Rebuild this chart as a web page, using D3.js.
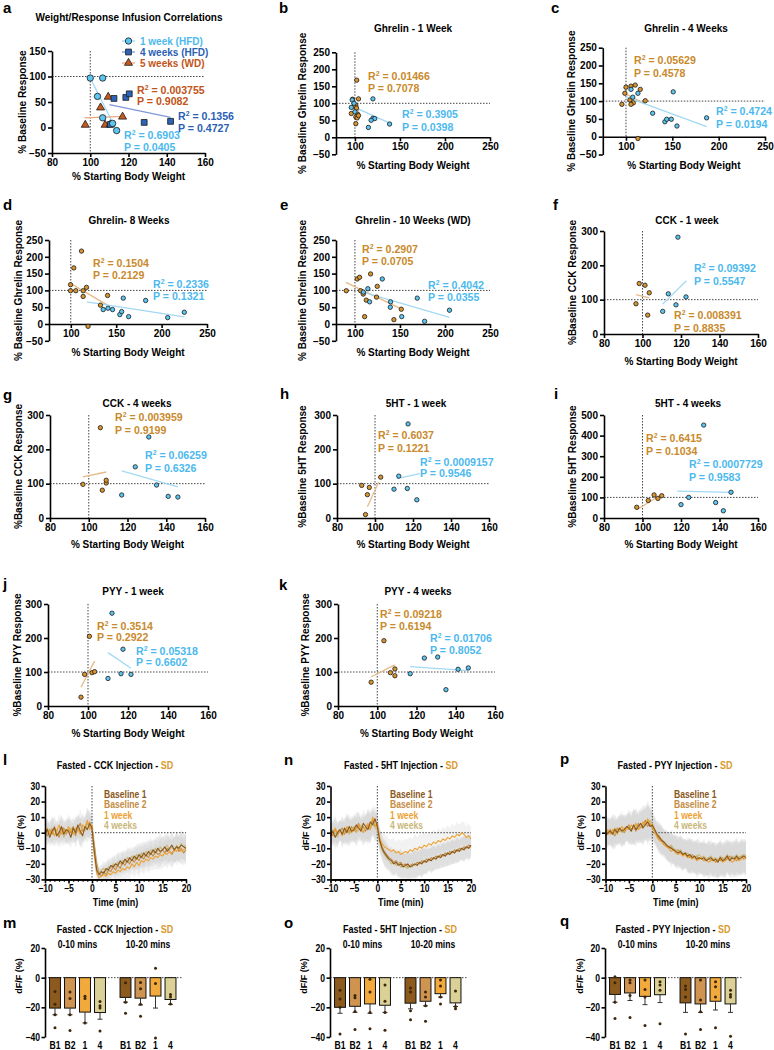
<!DOCTYPE html>
<html><head><meta charset="utf-8">
<script src="https://cdn.jsdelivr.net/npm/d3@7"></script>
<style>body{margin:0;background:#fff}</style>
</head><body>
<script>
// ================= DATA =================
// Panel a
const aWeek1 = [[100,97],[106.5,97],[103.8,61],[106.5,19],[111.7,8],[113.8,-6]];
const aWeek4 = [[110.5,6],[112.4,57],[118.6,59],[120.4,66],[128.2,10],[142,12]];
const aWeek5 = [[97.4,5],[105.4,39],[107.8,5],[109.4,60],[116.9,21],[110.5,6]];
const aFitWeek1 = [100,97,113,0];
const aFitWeek4 = [110,45,142,20];
const aFitWeek5 = [97,19,117,22];
const aStats = [["0.003755","0.9082"],["0.1356","0.4727"],["0.6903","0.0405"]];
const aLegend = ["1 week (HFD)","4 weeks (HFD)","5 weeks (WD)"];
// Panel b
const bOrange = [[102,168],[104,113],[97.4,112],[101,95],[99,92],[101.8,86],[96,70],[103,68],[101,60],[102.5,57],[104,64],[101,40]];
const bBlue = [[97,110],[99,100],[96,88],[100,75],[120,113],[120,56],[122,55],[115,29],[138.5,39],[118,50]];
const bFitOrange = [96,85,105,78], bFitBlue = [98,90,140,40];
const bStats = [["0.01466","0.7078"],["0.3905","0.0398"]];
// Panel c
const cOrange = [[100,139],[98.8,122],[105.4,142],[110,145],[115.4,133],[104.3,103],[107.9,95],[105.4,91],[95.6,91],[120.8,101],[112.9,-5]];
const cBlue = [[105.4,133],[112.9,122],[107.3,111],[151,126],[128.8,66],[142,42],[143.9,49],[148.9,49],[155,30],[187,53]];
const cFitOrange = [97,124,120,92], cFitBlue = [100,112,187,28];
const cStats = [["0.05629","0.4578"],["0.4724","0.0194"]];
// Panel d
const dOrange = [[99.7,99],[99.7,117],[103.3,167],[105.5,99],[111.8,217],[113.6,99],[117.3,109],[113.6,82],[140.5,85],[132.7,56],[119,-7]];
const dBlue = [[135.7,43],[141,47],[146,43],[154,28],[156,37],[157.8,77],[163.7,22],[182.4,70],[206.7,19],[225,35]];
const dFitOrange = [100,120,140,57], dFitBlue = [117.6,66,225,21];
const dStats = [["0.1504","0.2129"],["0.2336","0.1321"]];
// Panel e
const eOrange = [[90.4,99],[102.6,134],[105.2,139],[106.3,99],[109.3,89],[112.6,71],[117.4,149],[124.8,112],[124,80],[143.3,13],[151.5,44],[110.8,22]];
const eBlue = [[109.3,95],[114.4,105],[116.3,66],[130.4,134],[139.6,66],[139.3,50],[152,22],[169.2,77],[177.4,8],[205,41]];
const eFitOrange = [90,124,151.5,45], eFitBlue = [109,95,205,20];
const eStats = [["0.2907","0.0705"],["0.4042","0.0355"]];
// Panel f
const fOrange = [[98.3,147],[101.3,142],[103.5,120],[96.6,88],[102.7,55]];
const fBlue = [[118.4,282],[113.4,117],[122.6,108],[117.4,85],[110.5,66]];
const fFitOrange = [96.6,115,103.5,105], fFitBlue = [110.5,87,122.8,155];
const fStats = [["0.008391","0.8835"],["0.09392","0.5547"]];
// Panel g
const gOrange = [[97,98],[107,81],[109,102],[109,110],[106,263]];
const gBlue = [[117,67],[124,149],[131,236],[135,96],[141,63],[146,61]];
const gFitOrange = [97,120,109,134], gFitBlue = [117,137,146,91];
const gStats = [["0.003959","0.9199"],["0.06259","0.6326"]];
// Panel h
const hOrange = [[93,95],[97,89],[96,68],[95,10],[103,119]];
const hBlue = [[110,84],[117,86],[122,53],[112.5,122],[117.4,274]];
const hFitOrange = [96,33,102,105], hFitBlue = [111.5,115,123.6,129];
const hStats = [["0.6037","0.1221"],["0.0009157","0.9546"]];
// Panel i
const iOrange = [[97,52],[103,85],[106,112],[108,95],[110,108]];
const iBlue = [[131.8,451],[120,65],[124,100],[138,75],[142,35],[146,125]];
const iFitOrange = [97,40,110,115], iFitBlue = [118,130,146,124];
const iStats = [["0.6415","0.1034"],["0.0007729","0.9583"]];
// Panel j
const jOrange = [[98.3,93],[102,98],[103.3,101],[96.5,26],[100.7,205]];
const jBlue = [[112,273],[117.5,167],[110,81],[116.5,95],[121.5,93]];
const jFitOrange = [96.5,55,103.3,132], jFitBlue = [110,157,121.5,111];
const jStats = [["0.3514","0.2922"],["0.05318","0.6602"]];
// Panel k
const kOrange = [[96.9,70],[106.7,98],[109,109],[109,89],[103.4,192]];
const kBlue = [[116.8,95],[124,141],[130.8,144],[135,48],[141.2,108],[146.4,112]];
const kFitOrange = [97,86,109,121], kFitBlue = [116.8,116,146.4,104];
const kStats = [["0.09218","0.6194"],["0.01706","0.8052"]];

// Traces (time in min)
const timeMin = [-10,-9.5,-9,-8.5,-8,-7.5,-7,-6.5,-6,-5.5,-5,-4.5,-4,-3.5,-3,-2.5,-2,-1.5,-1,-0.5,0,0.5,1,1.5,2,2.5,3,3.5,4,4.5,5,5.5,6,6.5,7,7.5,8,8.5,9,9.5,10,10.5,11,11.5,12,12.5,13,13.5,14,14.5,15,15.5,16,16.5,17,17.5,18,18.5,19,19.5,20];
const traceNames = ["Baseline 1","Baseline 2","1 week","4 weeks"];
const lB1 = [-1,2,-3,1,3,-2,0,4,-1,2,1,-3,3,0,5,1,-2,4,2,6, 3, -12,-24,-27,-25,-26,-23,-24,-21,-22,-20,-21,-18,-20,-17,-19,-16,-18,-15,-17,-14,-16,-13,-15,-12,-14,-11,-13,-10,-12,-11,-9,-12,-10,-8,-11,-9,-10,-8,-9,-10];
const lB2 = [1,-2,2,-1,4,0,-3,2,3,-1,2,0,4,-2,3,6,1,3,7,4, 2, -8,-20,-26,-28,-25,-27,-24,-25,-22,-24,-21,-23,-19,-21,-18,-20,-17,-19,-16,-18,-15,-17,-14,-16,-13,-15,-12,-14,-13,-11,-13,-10,-12,-14,-11,-9,-12,-10,-13,-11];
const lW1 = [0,3,-1,2,-2,1,5,-1,2,0,4,1,-1,3,2,-1,5,3,8,2, 5, -15,-26,-29,-28,-27,-28,-26,-27,-25,-26,-24,-25,-23,-24,-22,-23,-20,-22,-19,-21,-18,-19,-17,-18,-16,-17,-15,-16,-14,-15,-13,-14,-12,-13,-11,-12,-10,-12,-11,-10];
const lW4 = [2,-1,1,3,-2,2,0,3,-3,1,0,3,-1,2,4,0,3,1,5,7, 4, -10,-22,-26,-24,-23,-25,-22,-23,-20,-22,-19,-20,-18,-19,-16,-18,-15,-17,-14,-16,-13,-15,-12,-14,-11,-13,-10,-12,-9,-11,-10,-8,-11,-9,-12,-8,-10,-7,-9,-8];
const lSem = [6,7,6,8,7,6,7,8,6,7,8,7,6,8,7,9,8,7,9,8, 7, 6,5,4,4,5,5,6,5,6,6,7,6,7,6,7,7,6,7,7,8,7,8,7,8,8,7,8,8,9,8,8,9,8,9,8,9,8,9,8,9];
const nB1 = [-2,1,-3,0,2,-1,3,0,4,1,2,5,3,1,6,4,2,7,5,9, 4, -5,-10,-13,-15,-17,-18,-20,-19,-21,-20,-22,-21,-20,-22,-21,-20,-21,-19,-20,-18,-19,-17,-18,-16,-17,-15,-16,-14,-15,-13,-14,-12,-13,-11,-12,-10,-11,-9,-10,-8];
const nB2 = [0,-2,2,-1,1,3,-1,2,0,4,1,3,6,2,4,1,5,3,8,4, 6, -4,-9,-12,-14,-16,-17,-19,-18,-20,-19,-21,-20,-22,-21,-20,-21,-19,-20,-18,-19,-17,-18,-16,-17,-15,-16,-14,-15,-13,-14,-12,-13,-11,-12,-10,-11,-9,-10,-8,-9];
const nW1 = [1,-1,3,0,2,-2,1,4,2,0,3,1,5,2,0,4,6,2,10,5, 3, -3,-7,-9,-10,-11,-12,-11,-13,-12,-14,-13,-12,-13,-11,-12,-10,-11,-9,-10,-8,-9,-7,-8,-6,-7,-5,-6,-4,-5,-3,-4,-2,-3,-1,-2,0,-1,-3,-2,-4];
const nW4 = [-1,2,0,-3,1,2,0,3,-1,2,4,0,2,5,1,3,4,2,6,3, 2, -6,-11,-14,-16,-18,-20,-19,-21,-20,-22,-21,-22,-23,-21,-22,-20,-21,-19,-20,-18,-19,-17,-18,-16,-17,-15,-16,-14,-15,-13,-14,-12,-13,-11,-12,-10,-11,-9,-10,-9];
const nSem = [6,7,8,7,6,8,7,9,8,7,8,9,8,7,9,8,10,9,8,9, 8, 7,7,8,8,7,8,8,7,8,9,8,8,9,8,8,9,8,8,9,8,8,7,8,8,7,8,7,8,7,8,7,8,7,8,7,7,8,7,8,7];
const pB1 = [-2,0,1,-1,2,0,3,1,2,4,3,1,5,2,4,6,3,5,7,4, 5, 2,-1,-3,-5,-6,-8,-9,-10,-11,-12,-13,-12,-14,-13,-15,-14,-16,-15,-17,-16,-17,-16,-18,-17,-16,-18,-17,-19,-16,-18,-17,-15,-18,-16,-17,-15,-17,-16,-15,-16];
const pB2 = [1,-1,2,0,-2,3,1,2,0,3,5,2,4,1,6,3,5,8,4,6, 3, 1,-2,-4,-5,-7,-8,-10,-9,-11,-12,-11,-13,-14,-13,-15,-16,-14,-16,-15,-17,-16,-18,-17,-16,-18,-17,-19,-17,-18,-16,-18,-17,-15,-17,-16,-18,-16,-15,-17,-16];
const pW1 = [0,2,-1,1,3,-1,2,4,1,3,2,5,3,6,2,4,7,5,9,6, 4, 0,-3,-5,-6,-8,-9,-10,-12,-11,-13,-14,-13,-15,-14,-16,-15,-17,-16,-18,-17,-16,-18,-17,-19,-18,-17,-19,-18,-17,-19,-18,-16,-17,-19,-18,-16,-18,-17,-16,-17];
const pW4 = [-1,1,0,2,-1,1,2,0,3,2,4,1,3,5,2,4,3,6,5,8, 6, 2,-1,-2,-4,-6,-7,-9,-8,-10,-11,-12,-11,-13,-14,-13,-15,-14,-16,-15,-14,-16,-15,-17,-16,-15,-17,-16,-18,-15,-17,-16,-14,-17,-15,-16,-14,-16,-15,-14,-15];
const pSem = [8,9,8,10,9,8,9,10,9,8,10,9,11,10,9,10,11,10,12,10, 9, 8,8,9,9,8,9,9,10,9,10,9,10,10,9,10,11,10,10,11,10,10,11,10,11,10,11,10,11,11,10,11,10,11,10,11,11,10,11,10,11];

// Bars
const barGroups = ["0-10 mins","10-20 mins"];
const barCats = ["B1","B2","1","4"];
const mMeans = [[-20.5,-20.5,-23.2,-23.5],[-13.3,-13.8,-12.4,-14.7]];
const mSem = [[4.5,4.5,7.3,4.5],[3.2,4.6,8.1,3.3]];
const mDots = [[[-9.4,-18,-25,-33.8],[-9.7,-14,-25,-35.6],[-12.5,-14,-30.5],[-16,-19,-20.5,-36]],
               [[-3.4,-16.5,-24],[-3.2,-7.4,-18,-26],[6.4,-3.9,-40.7],[-11.3,-13,-17.7]]];
const oMeans = [[-20,-19.3,-17.7,-18.6],[-17.2,-15.9,-10.8,-17]];
const oSem = [[4,4.1,6.3,4.8],[3.8,3.1,2.3,2.5]];
const oDots = [[[-8.5,-14.3,-20,-38],[-12,-13.6,-22.8,-35],[-1.1,-9.7,-23.4,-34.5],[-5,-15.9,-23.4,-35.4]],
               [[-6.9,-9.7,-22.3,-28.3],[-9.7,-13,-18.9,-29.4],[-1.6,-5.7,-13,-17.7],[-9,-19.5,-21]]];
const qMeans = [[-11.3,-10.3,-12.6,-11.5],[-17,-17.7,-15.9,-17.7]];
const qSem = [[5.2,5.1,5.6,5.3],[6.4,5.7,5.9,5.7]];
const qDots = [[[0.7,-3.4,-16.5,-27.6],[-1.6,-3.4,-12,-26.9],[-1.6,-8,-13,-32.2],[-2.8,-5,-8.5,-31]],
               [[-5.7,-8,-13,-38],[-1.6,-15,-23,-35],[-2.8,-6.2,-13,-33.8],[-8.5,-11.3,-13,-39.5]]];

// ================= STYLE / HELPERS =================
const F = "'Liberation Sans', Arial, Helvetica, sans-serif";
const SQ = 0.82; // horizontal condensation for the bottom (l-q) panels
const COL = {lb:"#5cc6f2", lbLine:"#a2d9f3", lbTxt:"#4cb9ee", db:"#2c63b8", dbLine:"#7f98d6", dbTxt:"#2b5fb4",
  rust:"#c65a1e", rustLine:"#eba882", rustTxt:"#c25418", or:"#d8952f", orLine:"#e6ba88", orTxt:"#c98a2c"};
const traceCols = ["#8a581c","#c48c44","#eda234","#c9b77a"];
const barCols = ["#8c5a1c","#cf9550","#f2aa3c","#dbd096"];

const svg = d3.select("body").append("svg").attr("width",774).attr("height",1050).style("display","block");
svg.append("rect").attr("width",774).attr("height",1050).attr("fill","#fff");

function txt(g,x,y,s,o={}){
  const t=g.append("text").attr("font-family",F).attr("font-weight","bold")
    .attr("font-size",o.fs||10).attr("fill",o.fill||"#000").attr("text-anchor",o.anchor||"start").text(s);
  if(o.narrow||o.rot){
    t.attr("x",0).attr("y",0).attr("transform",`translate(${x},${y})${o.rot?" rotate(-90)":""}${o.narrow?` scale(${SQ},1)`:""}`);
  } else t.attr("x",x).attr("y",y);
  return t;
}
function styleAxis(g,fs,narrow){
  g.attr("font-family",null).attr("font-size",null);
  g.selectAll("path.domain").attr("stroke","#000").attr("stroke-width",1.6);
  g.selectAll(".tick line").attr("stroke","#000").attr("stroke-width",1.6);
  const t=g.selectAll(".tick text").attr("font-family",F).attr("font-weight","bold").attr("font-size",fs||10).attr("fill","#000");
  if(narrow) t.attr("transform",`scale(${SQ},1)`).attr("x",function(){return (+d3.select(this).attr("x")||0)/SQ;});
}
function dotted(sel){ sel.attr("stroke","#444").attr("stroke-width",1).attr("stroke-dasharray","1.5,1.5"); }
function annot(g,x0,yR,yP,color,r2,pv){
  const fs=10.6;
  const t=g.append("text").attr("x",x0).attr("y",yR+4).attr("font-family",F).attr("font-weight","bold").attr("font-size",fs).attr("fill",color);
  t.append("tspan").text("R");
  t.append("tspan").attr("dy",-4.5).attr("font-size",fs*0.65).text("2");
  t.append("tspan").attr("dy",4.5).text(" = "+r2);
  txt(g,x0,yP+4,"P = "+pv,{fs:fs,fill:color});
}

// ================= SCATTER PANELS =================
function scatterPanel(L,D){
  const g=svg.append("g");
  const x=d3.scaleLinear().domain(L.xd).range(L.xr);
  const y=d3.scaleLinear().domain(L.yd).range(L.yr);
  g.append("line").attr("x1",x(100)).attr("x2",x(100)).attr("y1",y(L.yd[1])).attr("y2",y(L.base)).call(dotted);
  g.append("line").attr("x1",L.xr[0]).attr("x2",L.xr[1]).attr("y1",y(100)).attr("y2",y(100)).call(dotted);
  const ay=g.append("g").attr("transform",`translate(${L.xr[0]},0)`)
    .call(d3.axisLeft(y).tickValues(L.yt).tickSize(4).tickPadding(2).tickSizeOuter(0));
  styleAxis(ay);
  const ax=g.append("g").attr("transform",`translate(0,${y(L.base)})`)
    .call(d3.axisBottom(x).tickValues(L.xt).tickSize(4).tickPadding(2).tickSizeOuter(0));
  styleAxis(ax);
  D.fits.forEach(f=>g.append("line").attr("x1",x(f.v[0])).attr("y1",y(f.v[1])).attr("x2",x(f.v[2])).attr("y2",y(f.v[3]))
    .attr("stroke",f.c).attr("stroke-width",1.3));
  D.pts.forEach(s=>{
    g.selectAll(null).data(s.v).join("path")
      .attr("transform",d=>`translate(${x(d[0])},${y(d[1])})`)
      .attr("d",d3.symbol().type(s.sym||d3.symbolCircle).size(s.size||15))
      .attr("fill",s.c).attr("stroke","#1a1a1a").attr("stroke-width",0.8);
  });
  D.stats.forEach((s,i)=>{ const p=L.ann[i]; annot(g,p[0],p[1],p[2],D.statCols[i],s[0],s[1]); });
  txt(g,L.letter[0],L.letter[1],L.id,{fs:15});
  txt(g,L.tx,L.ty,L.title,{anchor:"middle",fs:10});
  const ymid=(L.yr[0]+L.yr[1])/2;
  txt(g,L.ylx,ymid,L.ylab,{anchor:"middle",rot:true,fs:10});
  txt(g,(L.xr[0]+L.xr[1])/2,L.xly,"% Starting Body Weight",{anchor:"middle",fs:10});
  return {g,x,y};
}

const ghX = [100,150,200,250], ghY=[-50,0,50,100,150,200,250];
const wX = [80,100,120,140,160], y300=[0,100,200,300];
const layouts = {
 a:{id:"a",xd:[80,160],xr:[52,205],yd:[-50,150],yr:[153,51],base:-50,xt:wX,yt:[-50,0,50,100,150],letter:[3,13],
    title:"Weight/Response Infusion Correlations",tx:129,ty:21,ylab:"% Baseline Response",ylx:26,xly:180,
    ann:[[137,90,101],[178,116,128],[124,135,147]]},
 b:{id:"b",xd:[79,250],xr:[336,490],yd:[-50,250],yr:[154.3,52.3],base:0,xt:ghX,yt:ghY,letter:[279,13],
    title:"Ghrelin - 1 Week",tx:413,ty:32,ylab:"% Baseline Ghrelin Response",ylx:306,xly:169,
    ann:[[368,76,88],[402,114,127]]},
 c:{id:"c",xd:[75,250],xr:[602.8,765],yd:[-50,250],yr:[154.5,47.7],base:0,xt:ghX,yt:ghY,letter:[551,13],
    title:"Ghrelin - 4  Weeks",tx:686,ty:32,ylab:"% Baseline Ghrelin Response",ylx:575,xly:169,
    ann:[[634,60,73],[716,111,124]]},
 d:{id:"d",xd:[76,250],xr:[49,207],yd:[-50,250],yr:[340.8,240],base:0,xt:ghX,yt:ghY,letter:[3,210],
    title:"Ghrelin- 8 Weeks",tx:129,ty:224,ylab:"% Baseline Ghrelin Response",ylx:22,xly:356,
    ann:[[93,263,275],[153,284,296]]},
 e:{id:"e",xd:[79,250],xr:[336,490],yd:[-50,250],yr:[340.8,240],base:0,xt:ghX,yt:ghY,letter:[280,210],
    title:"Ghrelin - 10 Weeks (WD)",tx:413,ty:224,ylab:"% Baseline Ghrelin Response",ylx:306,xly:356,
    ann:[[362,249,261],[428,285,297]]},
 f:{id:"f",xd:[80,160],xr:[604,758],yd:[0,300],yr:[334,231],base:0,xt:wX,yt:y300,letter:[553,210],
    title:"CCK - 1 week",tx:687,ty:224,ylab:"%Baseline CCK Response",ylx:576,xly:365,
    ann:[[674,315,328],[694,268,281]]},
 g:{id:"g",xd:[80,160],xr:[50,205],yd:[0,300],yr:[518,415],base:0,xt:wX,yt:y300,letter:[3,400],
    title:"CCK - 4 weeks",tx:137,ty:407,ylab:"%Baseline CCK Response",ylx:22,xly:548,
    ann:[[115,417,430],[145,455,468]]},
 h:{id:"h",xd:[80,160],xr:[337,489],yd:[0,300],yr:[518,415],base:0,xt:wX,yt:y300,letter:[280,399],
    title:"5HT - 1 week",tx:416,ty:407,ylab:"%Baseline 5HT Response",ylx:306,xly:548,
    ann:[[378,435,448],[420,462,473]]},
 i:{id:"i",xd:[80,160],xr:[604,758],yd:[0,500],yr:[518,415],base:0,xt:wX,yt:[0,100,200,300,400,500],letter:[554,399],
    title:"5HT - 4 weeks",tx:688,ty:407,ylab:"%Baseline 5HT Response",ylx:576,xly:548,
    ann:[[646,438,451],[689,464,477]]},
 j:{id:"j",xd:[80,160],xr:[48,208],yd:[0,300],yr:[706,604],base:0,xt:wX,yt:y300,letter:[3,589],
    title:"PYY - 1 week",tx:133,ty:595,ylab:"%Baseline PYY Response",ylx:21,xly:737,
    ann:[[97,626,637],[136,651,662]]},
 k:{id:"k",xd:[80,160],xr:[338,495],yd:[0,300],yr:[706,604],base:0,xt:wX,yt:y300,letter:[279,590],
    title:"PYY - 4 weeks",tx:418,ty:595,ylab:"%Baseline PYY Response",ylx:309,xly:737,
    ann:[[380,614,626],[430,638,650]]}
};

// panel a
scatterPanel(layouts.a,{
  fits:[{v:aFitWeek1,c:COL.lbLine},{v:aFitWeek4,c:COL.dbLine},{v:aFitWeek5,c:COL.rustLine}],
  pts:[{v:aWeek5,c:COL.rust,sym:d3.symbolTriangle,size:28},{v:aWeek4,c:COL.db,sym:d3.symbolSquare,size:34},{v:aWeek1,c:COL.lb,size:32}],
  stats:aStats, statCols:[COL.rustTxt,COL.dbTxt,COL.lbTxt]
});
{ // legend a
  const g=svg.append("g");
  const syms=[[d3.symbolCircle,COL.lb,COL.lbLine,32],[d3.symbolSquare,COL.db,COL.dbLine,34],[d3.symbolTriangle,COL.rust,COL.rustLine,28]];
  const ly=d3.scalePoint().domain(aLegend).range([41,63]);
  aLegend.forEach((name,i)=>{
    const yy=ly(name);
    g.append("line").attr("x1",122).attr("x2",135).attr("y1",yy).attr("y2",yy).attr("stroke",syms[i][2]).attr("stroke-width",1.3);
    g.append("path").attr("transform",`translate(128.5,${yy})`).attr("d",d3.symbol().type(syms[i][0]).size(syms[i][3]))
      .attr("fill",syms[i][1]).attr("stroke","#1a1a1a").attr("stroke-width",0.8);
    txt(g,140,yy+3.5,name,{fs:10,fill:[COL.lbTxt,COL.dbTxt,COL.rustTxt][i]});
  });
}
const pairPanels = [
  ["b",bOrange,bBlue,bFitOrange,bFitBlue,bStats],
  ["c",cOrange,cBlue,cFitOrange,cFitBlue,cStats],
  ["d",dOrange,dBlue,dFitOrange,dFitBlue,dStats],
  ["e",eOrange,eBlue,eFitOrange,eFitBlue,eStats],
  ["f",fOrange,fBlue,fFitOrange,fFitBlue,fStats],
  ["g",gOrange,gBlue,gFitOrange,gFitBlue,gStats],
  ["h",hOrange,hBlue,hFitOrange,hFitBlue,hStats],
  ["i",iOrange,iBlue,iFitOrange,iFitBlue,iStats],
  ["j",jOrange,jBlue,jFitOrange,jFitBlue,jStats],
  ["k",kOrange,kBlue,kFitOrange,kFitBlue,kStats]
];
pairPanels.forEach(([id,po,pb,fo,fb,st])=>{
  scatterPanel(layouts[id],{
    fits:[{v:fo,c:COL.orLine},{v:fb,c:COL.lbLine}],
    pts:[{v:po,c:COL.or},{v:pb,c:COL.lb}],
    stats:st, statCols:[COL.orTxt,COL.lbTxt]
  });
});

// ================= TRACE PANELS =================
function titleSD(g,cx,y,main){
  const t=g.append("text").attr("x",0).attr("y",0).attr("transform",`translate(${cx},${y}) scale(${SQ},1)`)
    .attr("text-anchor","middle").attr("font-family",F).attr("font-weight","bold").attr("font-size",11).attr("fill","#000");
  t.append("tspan").text(main);
  t.append("tspan").attr("fill","#d99a30").text("SD");
}
function tracePanel(L,series,sem){
  const g=svg.append("g");
  const x=d3.scaleLinear().domain([-10,20]).range(L.xr);
  const y=d3.scaleLinear().domain([-30,30]).range([879.4,786]).clamp(true);
  series.forEach(s=>{
    g.append("path").datum(timeMin)
      .attr("d",d3.area().x(t=>x(t)).y0((t,i)=>y(s.v[i]-sem[i])).y1((t,i)=>y(s.v[i]+sem[i])))
      .attr("fill","#c6c6c6").attr("opacity",0.22);
  });
  g.append("line").attr("x1",x(0)).attr("x2",x(0)).attr("y1",y(30)).attr("y2",y(-30)).call(dotted);
  g.append("line").attr("x1",x(0)).attr("x2",x(20)).attr("y1",y(0)).attr("y2",y(0)).call(dotted);
  [1,3,2,0].forEach(k=>{
    const s=series[k];
    g.append("path").datum(timeMin)
      .attr("d",d3.line().x(t=>x(t)).y((t,i)=>y(s.v[i])))
      .attr("fill","none").attr("stroke",s.c).attr("stroke-width",1.1).attr("stroke-linejoin","round");
  });
  const ay=g.append("g").attr("transform",`translate(${L.xr[0]},0)`)
    .call(d3.axisLeft(y).tickValues([-30,-20,-10,0,10,20,30]).tickSize(3.5).tickPadding(1.5).tickSizeOuter(0));
  styleAxis(ay,10.5,true);
  const axm=g.append("g").attr("transform",`translate(0,879.4)`)
    .call(d3.axisBottom(x).tickValues(d3.range(-10,21,1)).tickSize(2.5).tickFormat("").tickSizeOuter(0));
  styleAxis(axm);
  axm.selectAll(".tick line").attr("stroke-width",1);
  const ax=g.append("g").attr("transform",`translate(0,879.4)`)
    .call(d3.axisBottom(x).tickValues([-10,-5,0,5,10,15,20]).tickSize(4).tickPadding(1.5).tickSizeOuter(0));
  styleAxis(ax,10.5,true);
  txt(g,L.letter[0],L.letter[1],L.id,{fs:15});
  titleSD(g,L.tx,769,L.title);
  txt(g,L.ylx,832.7,"dF/F (%)",{anchor:"middle",rot:true,fs:9});
  txt(g,(L.xr[0]+L.xr[1])/2,906,"Time (min)",{anchor:"middle",fs:11,narrow:true});
  const ly=d3.scalePoint().domain(traceNames).range([794,825.3]);
  traceNames.forEach((n,i)=>txt(g,L.legX,ly(n)+4,n,{fs:10.5,narrow:true,fill:traceCols[i]}));
}
tracePanel({id:"l",xr:[45,186],tx:115,title:"Fasted - CCK Injection - ",letter:[3,765],ylx:24,legX:104},
  [{v:lB1,c:traceCols[0]},{v:lB2,c:traceCols[1]},{v:lW1,c:traceCols[2]},{v:lW4,c:traceCols[3]}],lSem);
tracePanel({id:"n",xr:[330.5,471],tx:401,title:"Fasted - 5HT Injection - ",letter:[284,765],ylx:309,legX:390},
  [{v:nB1,c:traceCols[0]},{v:nB2,c:traceCols[1]},{v:nW1,c:traceCols[2]},{v:nW4,c:traceCols[3]}],nSem);
tracePanel({id:"p",xr:[605.5,746],tx:675,title:"Fasted - PYY Injection - ",letter:[560,764],ylx:584,legX:674},
  [{v:pB1,c:traceCols[0]},{v:pB2,c:traceCols[1]},{v:pW1,c:traceCols[2]},{v:pW4,c:traceCols[3]}],pSem);

// ================= BAR PANELS =================
function barPanel(L,means,sems,dots){
  const g=svg.append("g");
  const y=d3.scaleLinear().domain([-40,20]).range([1037,948]);
  const gx=d3.scaleBand().domain(barGroups).range([L.ax+2.5,L.ax+133]).paddingInner(0.149);
  const bx=d3.scaleBand().domain(barCats).range([0,gx.bandwidth()]).paddingInner(0.27).paddingOuter(0.135);
  g.append("line").attr("x1",L.ax).attr("x2",L.ax+137).attr("y1",y(0)).attr("y2",y(0)).call(dotted);
  barGroups.forEach((grp,gi)=>{
    const gg=g.append("g").attr("transform",`translate(${gx(grp)},0)`);
    gg.selectAll("rect").data(means[gi]).join("rect")
      .attr("x",(d,i)=>bx(barCats[i])).attr("width",bx.bandwidth())
      .attr("y",d=>y(Math.max(0,d))).attr("height",d=>Math.abs(y(d)-y(0)))
      .attr("fill",(d,i)=>barCols[i]).attr("stroke","#111").attr("stroke-width",1);
    means[gi].forEach((m,i)=>{
      const cx=bx(barCats[i])+bx.bandwidth()/2, e=m-sems[gi][i];
      gg.append("line").attr("x1",cx).attr("x2",cx).attr("y1",y(m)).attr("y2",y(e)).attr("stroke","#333").attr("stroke-width",1);
      gg.append("line").attr("x1",cx-2.5).attr("x2",cx+2.5).attr("y1",y(e)).attr("y2",y(e)).attr("stroke","#333").attr("stroke-width",1);
      gg.selectAll(null).data(dots[gi][i]).join("circle").attr("cx",cx).attr("cy",d=>y(d)).attr("r",1.5).attr("fill","#3b2608");
      txt(gg,cx,1049,barCats[i],{anchor:"middle",fs:10.5,narrow:true});
    });
    txt(g,gx(grp)+gx.bandwidth()/2,948,grp,{anchor:"middle",fs:10.5,narrow:true});
  });
  const ay=g.append("g").attr("transform",`translate(${L.ax},0)`)
    .call(d3.axisLeft(y).tickValues([-40,-20,0,20]).tickSize(3.5).tickPadding(1.5).tickSizeOuter(0));
  styleAxis(ay,10.5,true);
  txt(g,L.letter[0],L.letter[1],L.id,{fs:15});
  titleSD(g,L.tx,933,L.title);
  txt(g,L.ylx,976,"dF/F (%)",{anchor:"middle",rot:true,fs:9});
}
barPanel({id:"m",ax:45,tx:115,title:"Fasted - CCK Injection - ",letter:[3,928],ylx:22},mMeans,mSem,mDots);
barPanel({id:"o",ax:330,tx:400,title:"Fasted - 5HT Injection - ",letter:[284,928],ylx:307},oMeans,oSem,oDots);
barPanel({id:"q",ax:605,tx:673,title:"Fasted - PYY Injection - ",letter:[560,926],ylx:583},qMeans,qSem,qDots);
</script>
</body></html>
